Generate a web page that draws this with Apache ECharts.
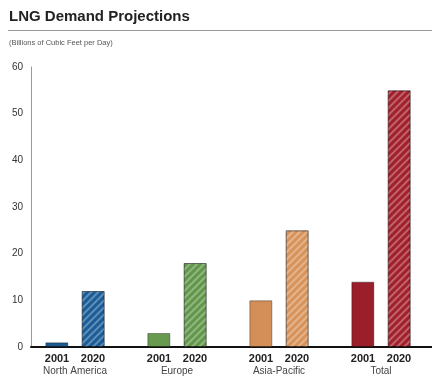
<!DOCTYPE html>
<html>
<head>
<meta charset="utf-8">
<script src="https://cdn.jsdelivr.net/npm/echarts@6/dist/echarts.min.js"></script>
<style>
  html, body { margin: 0; padding: 0; background: #fff; }
  #chart { width: 432px; height: 377px; }
</style>
</head>
<body>
<div id="chart"></div>
<script>
// LNG demand data (billions of cubic feet per day)
const regions = ['North America', 'Europe', 'Asia-Pacific', 'Total'];
const years = ['2001', '2020'];
const demand2001 = [1, 3, 10, 14];
const demand2020 = [12, 18, 25, 55];
const colors2001 = ['#1d5b8f', '#679a4e', '#d38f57', '#9a1f2b'];
const colors2020 = ['#1a5c97', '#62974a', '#d8935b', '#a21f2c'];
const yTicks = [0, 10, 20, 30, 40, 50, 60];

const font = 'Liberation Sans, Arial, sans-serif';

// diagonal hatching for the 2020 bars
function stripes() {
    return {
        symbol: 'rect',
        symbolSize: 1,
        dashArrayX: [1, 0],
        dashArrayY: [1.5, 2.5],
        rotation: -Math.PI / 4,
        color: 'rgba(255,255,255,0.3)'
    };
}

const chart = echarts.init(document.getElementById('chart'));

const option = {
    animation: false,
    title: {
        text: 'LNG Demand Projections',
        left: 9,
        top: 9,
        padding: 0,
        textStyle: { fontFamily: font, fontSize: 15, fontWeight: 'bold', color: '#222' }
    },
    graphic: [
        {
            type: 'line',
            shape: { x1: 8, y1: 30.5, x2: 432, y2: 30.5 },
            style: { stroke: '#999', lineWidth: 1 }
        },
        {
            type: 'text',
            left: 9,
            top: 39,
            style: { text: '(Billions of Cubic Feet per Day)', font: '7.5px ' + font, fill: '#555' }
        }
    ],
    grid: [
        { left: 24, width: 419, top: 67, height: 280 },
        { left: 31, right: 0, top: 67, height: 280 }
    ],
    xAxis: [
        {
            type: 'category',
            gridIndex: 0,
            data: regions,
            axisLine: { show: false },
            axisTick: { show: false },
            axisLabel: {
                margin: 6,
                interval: 0,
                formatter: function (v) {
                    return '{y|' + years[0] + '}{y|' + years[1] + '}\n{n|' + v + '}';
                },
                rich: {
                    y: { fontFamily: font, fontSize: 11, fontWeight: 'bold', color: '#222', width: 36, align: 'center', lineHeight: 12 },
                    n: { fontFamily: font, fontSize: 10, color: '#444', lineHeight: 13 }
                }
            }
        },
        {
            type: 'category',
            gridIndex: 1,
            data: regions,
            axisLine: { lineStyle: { color: '#111', width: 2 } },
            axisTick: { show: false },
            axisLabel: { show: false }
        }
    ],
    yAxis: [
        {
            type: 'value',
            gridIndex: 0,
            min: 0,
            max: 60,
            interval: 10,
            show: false
        },
        {
            type: 'value',
            gridIndex: 1,
            min: yTicks[0],
            max: yTicks[yTicks.length - 1],
            interval: 10,
            axisLine: { show: true, lineStyle: { color: '#999', width: 1 } },
            axisTick: { show: false },
            splitLine: { show: false },
            axisLabel: { margin: 8, fontFamily: font, fontSize: 10, color: '#333' }
        }
    ],
    series: [
        {
            name: years[0],
            type: 'bar',
            xAxisIndex: 0,
            yAxisIndex: 0,
            barWidth: 23,
            barGap: '58%',
            data: demand2001.map((v, i) => ({
                value: v,
                itemStyle: { color: colors2001[i], borderColor: 'rgba(0,0,0,0.35)', borderWidth: 1 }
            }))
        },
        {
            name: years[1],
            type: 'bar',
            xAxisIndex: 0,
            yAxisIndex: 0,
            barWidth: 23,
            barGap: '58%',
            data: demand2020.map((v, i) => ({
                value: v,
                itemStyle: { color: colors2020[i], borderColor: 'rgba(0,0,0,0.3)', borderWidth: 1, decal: stripes() }
            }))
        }
    ]
};

chart.setOption(option);
</script>
</body>
</html>
